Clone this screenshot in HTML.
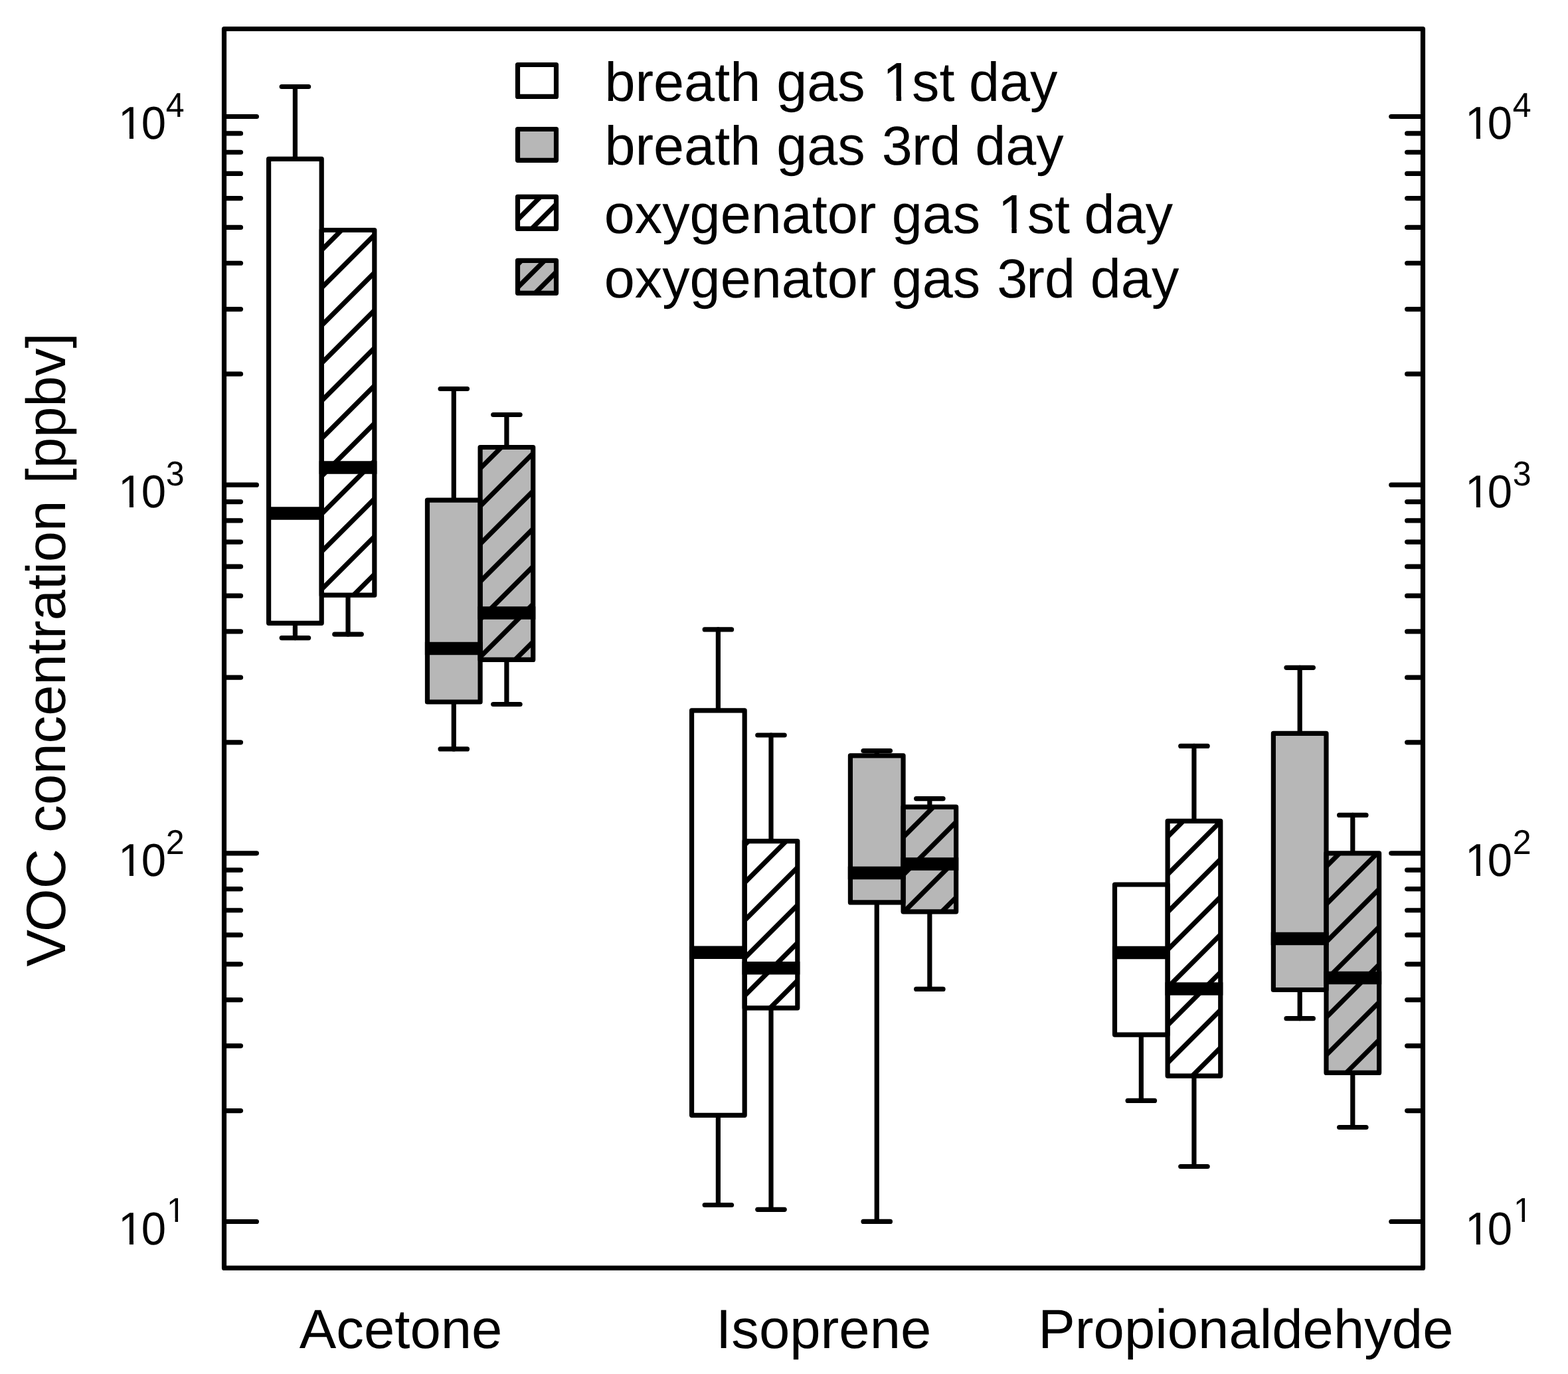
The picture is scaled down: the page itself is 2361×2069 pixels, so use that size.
<!DOCTYPE html>
<html lang="en"><head><meta charset="utf-8"><title>VOC concentration box plot</title>
<style>
html,body{margin:0;padding:0;background:#fff;}
body{width:2361px;height:2069px;overflow:hidden;}
svg{display:block;}
text{font-family:"Liberation Sans",sans-serif;fill:#000;text-rendering:geometricPrecision;}
.ln{stroke:#000;stroke-width:7.2;fill:none;stroke-linecap:round;stroke-linejoin:round;}
.bx{stroke:#000;stroke-width:7.2;stroke-linejoin:round;}
.md{stroke:#000;stroke-width:19.5;stroke-linecap:butt;}
.ht{stroke:#000;stroke-width:7.2;stroke-linecap:butt;}
</style></head><body>
<svg width="2361" height="2069" viewBox="0 0 2361 2069" role="img" aria-label="Box plot of VOC concentration [ppbv] for Acetone, Isoprene and Propionaldehyde">
<title>VOC concentration [ppbv]: Acetone, Isoprene, Propionaldehyde</title>
<rect x="0" y="0" width="2361" height="2069" fill="#fff"/>
<defs>
<clipPath id="c1"><rect x="484.22" y="346.5" width="79.62" height="549.7"/></clipPath>
<clipPath id="c3"><rect x="723.08" y="673.5" width="79.62" height="319.9"/></clipPath>
<clipPath id="c5"><rect x="1121.18" y="1266.6" width="79.62" height="251.2"/></clipPath>
<clipPath id="c7"><rect x="1360.04" y="1215.2" width="79.62" height="157.6"/></clipPath>
<clipPath id="c9"><rect x="1758.14" y="1236.3" width="79.62" height="383.8"/></clipPath>
<clipPath id="c11"><rect x="1997" y="1284.9" width="79.62" height="330.5"/></clipPath>
</defs>
<g class="ln">
<line x1="444.41" y1="130.5" x2="444.41" y2="239.4"/>
<line x1="424.21" y1="130.5" x2="464.61" y2="130.5"/>
<line x1="444.41" y1="938.3" x2="444.41" y2="960.6"/>
<line x1="424.21" y1="960.6" x2="464.61" y2="960.6"/>
<line x1="524.03" y1="896.2" x2="524.03" y2="955.2"/>
<line x1="503.83" y1="955.2" x2="544.23" y2="955.2"/>
<line x1="683.27" y1="585.5" x2="683.27" y2="753.1"/>
<line x1="663.07" y1="585.5" x2="703.47" y2="585.5"/>
<line x1="683.27" y1="1057" x2="683.27" y2="1127.9"/>
<line x1="663.07" y1="1127.9" x2="703.47" y2="1127.9"/>
<line x1="762.89" y1="624.5" x2="762.89" y2="673.5"/>
<line x1="742.69" y1="624.5" x2="783.09" y2="624.5"/>
<line x1="762.89" y1="993.4" x2="762.89" y2="1060.5"/>
<line x1="742.69" y1="1060.5" x2="783.09" y2="1060.5"/>
<line x1="1081.37" y1="947.9" x2="1081.37" y2="1069.9"/>
<line x1="1061.17" y1="947.9" x2="1101.57" y2="947.9"/>
<line x1="1081.37" y1="1679.3" x2="1081.37" y2="1814.5"/>
<line x1="1061.17" y1="1814.5" x2="1101.57" y2="1814.5"/>
<line x1="1160.99" y1="1107" x2="1160.99" y2="1266.6"/>
<line x1="1140.79" y1="1107" x2="1181.19" y2="1107"/>
<line x1="1160.99" y1="1517.8" x2="1160.99" y2="1821.3"/>
<line x1="1140.79" y1="1821.3" x2="1181.19" y2="1821.3"/>
<line x1="1320.23" y1="1130.5" x2="1320.23" y2="1137.8"/>
<line x1="1300.03" y1="1130.5" x2="1340.43" y2="1130.5"/>
<line x1="1320.23" y1="1358.9" x2="1320.23" y2="1839.4"/>
<line x1="1300.03" y1="1839.4" x2="1340.43" y2="1839.4"/>
<line x1="1399.85" y1="1202.6" x2="1399.85" y2="1215.2"/>
<line x1="1379.65" y1="1202.6" x2="1420.05" y2="1202.6"/>
<line x1="1399.85" y1="1372.8" x2="1399.85" y2="1489.4"/>
<line x1="1379.65" y1="1489.4" x2="1420.05" y2="1489.4"/>
<line x1="1718.33" y1="1558.1" x2="1718.33" y2="1657.4"/>
<line x1="1698.13" y1="1657.4" x2="1738.53" y2="1657.4"/>
<line x1="1797.95" y1="1123.4" x2="1797.95" y2="1236.3"/>
<line x1="1777.75" y1="1123.4" x2="1818.15" y2="1123.4"/>
<line x1="1797.95" y1="1620.1" x2="1797.95" y2="1756.5"/>
<line x1="1777.75" y1="1756.5" x2="1818.15" y2="1756.5"/>
<line x1="1957.19" y1="1005.3" x2="1957.19" y2="1104.4"/>
<line x1="1936.99" y1="1005.3" x2="1977.39" y2="1005.3"/>
<line x1="1957.19" y1="1490.5" x2="1957.19" y2="1533.7"/>
<line x1="1936.99" y1="1533.7" x2="1977.39" y2="1533.7"/>
<line x1="2036.81" y1="1227.4" x2="2036.81" y2="1284.9"/>
<line x1="2016.61" y1="1227.4" x2="2057.01" y2="1227.4"/>
<line x1="2036.81" y1="1615.4" x2="2036.81" y2="1697.5"/>
<line x1="2016.61" y1="1697.5" x2="2057.01" y2="1697.5"/>
</g>
<rect x="404.6" y="239.4" width="79.62" height="698.9" fill="#fff"/>
<rect x="484.22" y="346.5" width="79.62" height="549.7" fill="#fff"/>
<g class="ht" clip-path="url(#c1)"><line x1="479.22" y1="381.58" x2="568.84" y2="291.96"/><line x1="479.22" y1="438.35" x2="568.84" y2="348.73"/><line x1="479.22" y1="495.12" x2="568.84" y2="405.5"/><line x1="479.22" y1="551.89" x2="568.84" y2="462.27"/><line x1="479.22" y1="608.66" x2="568.84" y2="519.04"/><line x1="479.22" y1="665.43" x2="568.84" y2="575.81"/><line x1="479.22" y1="722.2" x2="568.84" y2="632.58"/><line x1="479.22" y1="778.97" x2="568.84" y2="689.35"/><line x1="479.22" y1="835.74" x2="568.84" y2="746.12"/><line x1="479.22" y1="892.51" x2="568.84" y2="802.89"/><line x1="479.22" y1="949.28" x2="568.84" y2="859.66"/></g>
<rect x="643.46" y="753.1" width="79.62" height="303.9" fill="#b7b7b7"/>
<rect x="723.08" y="673.5" width="79.62" height="319.9" fill="#b7b7b7"/>
<g class="ht" clip-path="url(#c3)"><line x1="718.08" y1="710.42" x2="807.7" y2="620.8"/><line x1="718.08" y1="767.19" x2="807.7" y2="677.57"/><line x1="718.08" y1="823.96" x2="807.7" y2="734.34"/><line x1="718.08" y1="880.73" x2="807.7" y2="791.11"/><line x1="718.08" y1="937.5" x2="807.7" y2="847.88"/><line x1="718.08" y1="994.27" x2="807.7" y2="904.65"/><line x1="718.08" y1="1051.04" x2="807.7" y2="961.42"/></g>
<rect x="1041.56" y="1069.9" width="79.62" height="609.4" fill="#fff"/>
<rect x="1121.18" y="1266.6" width="79.62" height="251.2" fill="#fff"/>
<g class="ht" clip-path="url(#c5)"><line x1="1116.18" y1="1277.41" x2="1205.8" y2="1187.79"/><line x1="1116.18" y1="1334.18" x2="1205.8" y2="1244.56"/><line x1="1116.18" y1="1390.95" x2="1205.8" y2="1301.33"/><line x1="1116.18" y1="1447.72" x2="1205.8" y2="1358.1"/><line x1="1116.18" y1="1504.49" x2="1205.8" y2="1414.87"/><line x1="1116.18" y1="1561.26" x2="1205.8" y2="1471.64"/></g>
<rect x="1280.42" y="1137.8" width="79.62" height="221.1" fill="#b7b7b7"/>
<rect x="1360.04" y="1215.2" width="79.62" height="157.6" fill="#b7b7b7"/>
<g class="ht" clip-path="url(#c7)"><line x1="1355.04" y1="1265.63" x2="1444.66" y2="1176.01"/><line x1="1355.04" y1="1322.4" x2="1444.66" y2="1232.78"/><line x1="1355.04" y1="1379.17" x2="1444.66" y2="1289.55"/><line x1="1355.04" y1="1435.94" x2="1444.66" y2="1346.32"/></g>
<rect x="1678.52" y="1332" width="79.62" height="226.1" fill="#fff"/>
<rect x="1758.14" y="1236.3" width="79.62" height="383.8" fill="#fff"/>
<g class="ht" clip-path="url(#c9)"><line x1="1753.14" y1="1264.92" x2="1842.76" y2="1175.3"/><line x1="1753.14" y1="1321.69" x2="1842.76" y2="1232.07"/><line x1="1753.14" y1="1378.46" x2="1842.76" y2="1288.84"/><line x1="1753.14" y1="1435.23" x2="1842.76" y2="1345.61"/><line x1="1753.14" y1="1492" x2="1842.76" y2="1402.38"/><line x1="1753.14" y1="1548.77" x2="1842.76" y2="1459.15"/><line x1="1753.14" y1="1605.54" x2="1842.76" y2="1515.92"/><line x1="1753.14" y1="1662.31" x2="1842.76" y2="1572.69"/></g>
<rect x="1917.38" y="1104.4" width="79.62" height="386.1" fill="#b7b7b7"/>
<rect x="1997" y="1284.9" width="79.62" height="330.5" fill="#b7b7b7"/>
<g class="ht" clip-path="url(#c11)"><line x1="1992" y1="1309.91" x2="2081.62" y2="1220.29"/><line x1="1992" y1="1366.68" x2="2081.62" y2="1277.06"/><line x1="1992" y1="1423.45" x2="2081.62" y2="1333.83"/><line x1="1992" y1="1480.22" x2="2081.62" y2="1390.6"/><line x1="1992" y1="1536.99" x2="2081.62" y2="1447.37"/><line x1="1992" y1="1593.76" x2="2081.62" y2="1504.14"/><line x1="1992" y1="1650.53" x2="2081.62" y2="1560.91"/><line x1="1992" y1="1707.3" x2="2081.62" y2="1617.68"/></g>
<rect class="bx" x="404.6" y="239.4" width="79.62" height="698.9" fill="none"/>
<line class="md" x1="401" y1="773" x2="487.82" y2="773"/>
<rect class="bx" x="484.22" y="346.5" width="79.62" height="549.7" fill="none"/>
<line class="md" x1="480.62" y1="704" x2="567.44" y2="704"/>
<rect class="bx" x="643.46" y="753.1" width="79.62" height="303.9" fill="none"/>
<line class="md" x1="639.86" y1="976.5" x2="726.68" y2="976.5"/>
<rect class="bx" x="723.08" y="673.5" width="79.62" height="319.9" fill="none"/>
<line class="md" x1="719.48" y1="923" x2="806.3" y2="923"/>
<rect class="bx" x="1041.56" y="1069.9" width="79.62" height="609.4" fill="none"/>
<line class="md" x1="1037.96" y1="1434.3" x2="1124.78" y2="1434.3"/>
<rect class="bx" x="1121.18" y="1266.6" width="79.62" height="251.2" fill="none"/>
<line class="md" x1="1117.58" y1="1457.7" x2="1204.4" y2="1457.7"/>
<rect class="bx" x="1280.42" y="1137.8" width="79.62" height="221.1" fill="none"/>
<line class="md" x1="1276.82" y1="1314.5" x2="1363.64" y2="1314.5"/>
<rect class="bx" x="1360.04" y="1215.2" width="79.62" height="157.6" fill="none"/>
<line class="md" x1="1356.44" y1="1301" x2="1443.26" y2="1301"/>
<rect class="bx" x="1678.52" y="1332" width="79.62" height="226.1" fill="none"/>
<line class="md" x1="1674.92" y1="1434.6" x2="1761.74" y2="1434.6"/>
<rect class="bx" x="1758.14" y="1236.3" width="79.62" height="383.8" fill="none"/>
<line class="md" x1="1754.54" y1="1488.9" x2="1841.36" y2="1488.9"/>
<rect class="bx" x="1917.38" y="1104.4" width="79.62" height="386.1" fill="none"/>
<line class="md" x1="1913.78" y1="1413.4" x2="2000.6" y2="1413.4"/>
<rect class="bx" x="1997" y="1284.9" width="79.62" height="330.5" fill="none"/>
<line class="md" x1="1993.4" y1="1472.4" x2="2080.22" y2="1472.4"/>
<rect class="bx" x="337.5" y="43.5" width="1805" height="1865.9" fill="none"/>
<g class="ln">
<line x1="341.1" y1="1839.51" x2="386.4" y2="1839.51"/>
<line x1="2138.9" y1="1839.51" x2="2094.8" y2="1839.51"/>
<line x1="341.1" y1="1672.54" x2="362.5" y2="1672.54"/>
<line x1="2138.9" y1="1672.54" x2="2118.7" y2="1672.54"/>
<line x1="341.1" y1="1574.87" x2="362.5" y2="1574.87"/>
<line x1="2138.9" y1="1574.87" x2="2118.7" y2="1574.87"/>
<line x1="341.1" y1="1505.57" x2="362.5" y2="1505.57"/>
<line x1="2138.9" y1="1505.57" x2="2118.7" y2="1505.57"/>
<line x1="341.1" y1="1451.81" x2="362.5" y2="1451.81"/>
<line x1="2138.9" y1="1451.81" x2="2118.7" y2="1451.81"/>
<line x1="341.1" y1="1407.89" x2="362.5" y2="1407.89"/>
<line x1="2138.9" y1="1407.89" x2="2118.7" y2="1407.89"/>
<line x1="341.1" y1="1370.76" x2="362.5" y2="1370.76"/>
<line x1="2138.9" y1="1370.76" x2="2118.7" y2="1370.76"/>
<line x1="341.1" y1="1338.59" x2="362.5" y2="1338.59"/>
<line x1="2138.9" y1="1338.59" x2="2118.7" y2="1338.59"/>
<line x1="341.1" y1="1310.22" x2="362.5" y2="1310.22"/>
<line x1="2138.9" y1="1310.22" x2="2118.7" y2="1310.22"/>
<line x1="341.1" y1="1284.84" x2="386.4" y2="1284.84"/>
<line x1="2138.9" y1="1284.84" x2="2094.8" y2="1284.84"/>
<line x1="341.1" y1="1117.87" x2="362.5" y2="1117.87"/>
<line x1="2138.9" y1="1117.87" x2="2118.7" y2="1117.87"/>
<line x1="341.1" y1="1020.2" x2="362.5" y2="1020.2"/>
<line x1="2138.9" y1="1020.2" x2="2118.7" y2="1020.2"/>
<line x1="341.1" y1="950.9" x2="362.5" y2="950.9"/>
<line x1="2138.9" y1="950.9" x2="2118.7" y2="950.9"/>
<line x1="341.1" y1="897.14" x2="362.5" y2="897.14"/>
<line x1="2138.9" y1="897.14" x2="2118.7" y2="897.14"/>
<line x1="341.1" y1="853.22" x2="362.5" y2="853.22"/>
<line x1="2138.9" y1="853.22" x2="2118.7" y2="853.22"/>
<line x1="341.1" y1="816.09" x2="362.5" y2="816.09"/>
<line x1="2138.9" y1="816.09" x2="2118.7" y2="816.09"/>
<line x1="341.1" y1="783.92" x2="362.5" y2="783.92"/>
<line x1="2138.9" y1="783.92" x2="2118.7" y2="783.92"/>
<line x1="341.1" y1="755.55" x2="362.5" y2="755.55"/>
<line x1="2138.9" y1="755.55" x2="2118.7" y2="755.55"/>
<line x1="341.1" y1="730.17" x2="386.4" y2="730.17"/>
<line x1="2138.9" y1="730.17" x2="2094.8" y2="730.17"/>
<line x1="341.1" y1="563.2" x2="362.5" y2="563.2"/>
<line x1="2138.9" y1="563.2" x2="2118.7" y2="563.2"/>
<line x1="341.1" y1="465.53" x2="362.5" y2="465.53"/>
<line x1="2138.9" y1="465.53" x2="2118.7" y2="465.53"/>
<line x1="341.1" y1="396.23" x2="362.5" y2="396.23"/>
<line x1="2138.9" y1="396.23" x2="2118.7" y2="396.23"/>
<line x1="341.1" y1="342.47" x2="362.5" y2="342.47"/>
<line x1="2138.9" y1="342.47" x2="2118.7" y2="342.47"/>
<line x1="341.1" y1="298.55" x2="362.5" y2="298.55"/>
<line x1="2138.9" y1="298.55" x2="2118.7" y2="298.55"/>
<line x1="341.1" y1="261.42" x2="362.5" y2="261.42"/>
<line x1="2138.9" y1="261.42" x2="2118.7" y2="261.42"/>
<line x1="341.1" y1="229.25" x2="362.5" y2="229.25"/>
<line x1="2138.9" y1="229.25" x2="2118.7" y2="229.25"/>
<line x1="341.1" y1="200.88" x2="362.5" y2="200.88"/>
<line x1="2138.9" y1="200.88" x2="2118.7" y2="200.88"/>
<line x1="341.1" y1="175.5" x2="386.4" y2="175.5"/>
<line x1="2138.9" y1="175.5" x2="2094.8" y2="175.5"/>
</g>
<clipPath id="k10"><path clip-rule="evenodd" d="M-20 -83.52 H208.8 V34.8 H-20 Z M3.48 -6.96 H17.5 V2.09 H3.48 Z M23.73 -6.96 H36.89 V2.09 H23.73 Z"/></clipPath>
<clipPath id="k1"><path clip-rule="evenodd" d="M-20 -62.4 H104 V26 H-20 Z M2.6 -5.2 H13.08 V1.56 H2.6 Z M17.73 -5.2 H27.56 V1.56 H17.73 Z"/></clipPath>
<text transform="translate(178.05,1874) scale(0.9650,1)" font-size="69.6" x="0 35.95" clip-path="url(#k10)">10</text>
<text transform="translate(250.98,1840) scale(0.9630,1)" font-size="52" clip-path="url(#k1)">1</text>
<text transform="translate(2206.05,1874) scale(0.9650,1)" font-size="69.6" x="0 34.91" clip-path="url(#k10)">10</text>
<text transform="translate(2278.98,1840) scale(0.9630,1)" font-size="52" clip-path="url(#k1)">1</text>
<text transform="translate(178.05,1319) scale(0.9650,1)" font-size="69.6" x="0 35.95" clip-path="url(#k10)">10</text>
<text transform="translate(249.78,1286) scale(0.9630,1)" font-size="52">2</text>
<text transform="translate(2206.05,1319) scale(0.9650,1)" font-size="69.6" x="0 34.91" clip-path="url(#k10)">10</text>
<text transform="translate(2277.78,1286) scale(0.9630,1)" font-size="52">2</text>
<text transform="translate(178.05,764) scale(0.9650,1)" font-size="69.6" x="0 35.95" clip-path="url(#k10)">10</text>
<text transform="translate(249.78,731) scale(0.9630,1)" font-size="52">3</text>
<text transform="translate(2206.05,764) scale(0.9650,1)" font-size="69.6" x="0 34.91" clip-path="url(#k10)">10</text>
<text transform="translate(2277.78,731) scale(0.9630,1)" font-size="52">3</text>
<text transform="translate(178.05,209) scale(0.9650,1)" font-size="69.6" x="0 35.95" clip-path="url(#k10)">10</text>
<text transform="translate(249.78,176) scale(0.9630,1)" font-size="52">4</text>
<text transform="translate(2206.05,209) scale(0.9650,1)" font-size="69.6" x="0 34.91" clip-path="url(#k10)">10</text>
<text transform="translate(2277.78,176) scale(0.9630,1)" font-size="52">4</text>
<text transform="translate(98.3,1455.6) rotate(-90)" font-size="83.3"><tspan dx="0 -3">VOC </tspan><tspan dx="1.2">concentration </tspan><tspan dx="2.3">[ppbv]</tspan></text>
<text transform="translate(603.6,2029.8)" font-size="83.3" text-anchor="middle">Acetone</text>
<text transform="translate(1240.2,2029.8)" font-size="83.3" text-anchor="middle">Isoprene</text>
<text transform="translate(1875.9,2029.8)" font-size="83.3" text-anchor="middle">Propionaldehyde</text>
<rect x="779.5" y="97.5" width="58" height="47.9" fill="#fff"/>
<rect class="bx" x="779.5" y="97.5" width="58" height="47.9" fill="none"/>
<clipPath id="lg0"><path clip-rule="evenodd" d="M-20 -99.34 H993.36 V41.39 H-20 Z M422.52 -8.28 H439.2 V2.48 H422.52 Z M446.61 -8.28 H462.26 V2.48 H446.61 Z"/></clipPath>
<text transform="translate(910.5,152.4)" font-size="82.78" clip-path="url(#lg0)">breath <tspan dx="1">gas </tspan><tspan dx="3.2 -1.85">1st </tspan><tspan dx="-1.4">day</tspan></text>
<rect x="779.5" y="194.5" width="58" height="46.8" fill="#b7b7b7"/>
<rect class="bx" x="779.5" y="194.5" width="58" height="46.8" fill="none"/>
<text transform="translate(910.5,248.4)" font-size="82.78">breath <tspan dx="1">gas </tspan><tspan dx="2.2 -0.85">3rd </tspan><tspan dx="-1.4">day</tspan></text>
<rect x="779.5" y="296.4" width="58" height="48" fill="#fff"/>
<clipPath id="l2"><rect x="779.5" y="296.4" width="58" height="48"/></clipPath>
<g class="ht" clip-path="url(#l2)"><line x1="774.5" y1="300.9" x2="842.5" y2="232.9"/><line x1="774.5" y1="335.7" x2="842.5" y2="267.7"/><line x1="774.5" y1="370.5" x2="842.5" y2="302.5"/><line x1="774.5" y1="405.3" x2="842.5" y2="337.3"/></g>
<rect class="bx" x="779.5" y="296.4" width="58" height="48" fill="none"/>
<clipPath id="lg2"><path clip-rule="evenodd" d="M-20 -99.34 H993.36 V41.39 H-20 Z M596.88 -8.28 H613.56 V2.48 H596.88 Z M620.97 -8.28 H636.61 V2.48 H620.97 Z"/></clipPath>
<text transform="translate(909.8,351.4)" font-size="82.78" clip-path="url(#lg2)">oxygenator <tspan dx="0.5">gas </tspan><tspan dx="3.2 -1.85">1st </tspan><tspan dx="-1.4">day</tspan></text>
<rect x="779.5" y="392.4" width="58" height="48.9" fill="#b7b7b7"/>
<clipPath id="l3"><rect x="779.5" y="392.4" width="58" height="48.9"/></clipPath>
<g class="ht" clip-path="url(#l3)"><line x1="774.5" y1="403.1" x2="842.5" y2="335.1"/><line x1="774.5" y1="437.9" x2="842.5" y2="369.9"/><line x1="774.5" y1="472.7" x2="842.5" y2="404.7"/><line x1="774.5" y1="507.5" x2="842.5" y2="439.5"/></g>
<rect class="bx" x="779.5" y="392.4" width="58" height="48.9" fill="none"/>
<text transform="translate(909.8,448.4)" font-size="82.78">oxygenator <tspan dx="0.5">gas </tspan><tspan dx="1.9 -1.85">3rd </tspan><tspan dx="-0.1">day</tspan></text>
</svg>
</body></html>
